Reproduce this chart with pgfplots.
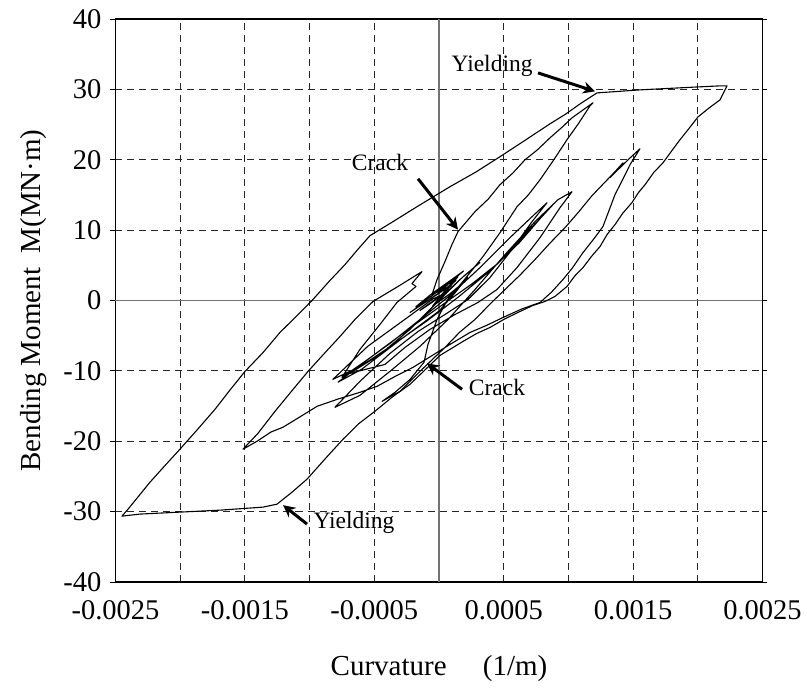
\documentclass[border=0pt]{standalone}
\usepackage{fontspec}
\setmainfont{Liberation Serif}
\usepackage{pgfplots}
\pgfplotsset{compat=1.18}
\usetikzlibrary{arrows.meta}
\begin{document}
\begin{tikzpicture}
\path[use as bounding box] (-115.5pt,-106pt) rectangle (691.5pt,582pt);
\begin{axis}[
  at={(0pt,0pt)}, anchor=south west,
  scale only axis, width=647pt, height=563pt,
  xmin=-0.0025, xmax=0.0025, ymin=-40, ymax=40,
  xtick={-0.0025,-0.0015,-0.0005,0.0005,0.0015,0.0025},
  xticklabels={-0.0025,-0.0015,-0.0005,0.0005,0.0015,0.0025},
  minor xtick={-0.002,-0.001,0.001,0.002},
  ytick={-40,-30,-20,-10,0,10,20,30,40},
  yticklabels={-40,-30,-20,-10,0,10,20,30,40},
  scaled x ticks=false,
  grid=both,
  major grid style={black!85, line width=0.8pt, dash pattern=on 7pt off 5pt},
  minor grid style={black!85, line width=0.8pt, dash pattern=on 7pt off 5pt},
  tick align=outside,
  major tick length=5pt,
  minor tick length=0pt,
  xtick style={draw=none},
  ytick style={black, line width=0.8pt},
  axis line style={black, line width=1.4pt},
  extra x ticks={0}, extra x tick labels={},
  extra x tick style={grid=major, major grid style={solid, draw=black!55, line width=1.1pt}},
  extra y ticks={0}, extra y tick labels={},
  extra y tick style={grid=major, major grid style={solid, draw=black!55, line width=1.1pt}},
  ticklabel style={font=\fontsize{28.5}{30}\selectfont},
  xticklabel style={inner sep=0pt, yshift=-13pt},
  yticklabel style={inner sep=0pt, xshift=-9pt},
  xlabel={Curvature\hspace{1.25em}(1/m)},
  ylabel={Bending Moment\ \ M(MN·m)},
  label style={font=\fontsize{29}{31}\selectfont},
  xlabel style={at={(axis description cs:0.5,-0.154)}, anchor=center},
  ylabel style={at={(axis description cs:-0.127,0.5)}, anchor=center},
]
% inner cycles
\addplot[black, line width=1.1pt, line join=round, mark=none] coordinates {
(0,0) (0.000054,1.28) (0.000100,2.41) (0.000039,1.13) (-0.000054,-0.28)
(-0.000147,-1.42) (-0.000085,-0.57) (0.000015,0.71) (0.000093,2.13)
(0.000147,3.40) (0.000085,2.55) (-0.000008,0.99) (-0.000108,-0.28)
(-0.000224,-1.70) (-0.000147,-0.71) (-0.000015,0.85) (0.000077,1.99)
(0.000131,2.84) (0.000062,1.84) (-0.000054,0.85) (-0.000015,2.98)
(0.000046,5.53) (0.000100,7.94) (0.000147,9.79) (0.000278,12.62)
(0.000380,14.40) (0.000471,16.45) (0.000570,18.10) (0.000665,20.00)
(0.000760,21.40) (0.000858,23.12) (0.000950,24.60) (0.001028,25.96)
(0.001190,28.09) (0.001167,27.66) (0.001080,25.20) (0.000989,22.84)
(0.000880,19.80) (0.000781,17.16) (0.000690,15.00) (0.000603,13.33)
(0.000470,9.60) (0.000340,6.24) (0.000178,2.55) (0.000062,0)
(-0.000015,-2.70) (-0.000085,-6.24) (-0.000116,-8.79) (-0.000224,-11.21)
(-0.000340,-13.05) (-0.000440,-14.33) (-0.000301,-12.91) (-0.000147,-10.07)
(0.000046,-6.67) (0.000160,-4.50) (0.000278,-2.70) (0.000400,-0.40)
(0.000510,1.56) (0.000620,3.50) (0.000742,5.82) (0.000860,8.20)
(0.000974,10.35) (0.001080,12.60) (0.001182,14.89) (0.001360,18.30)
(0.001422,19.57) (0.001321,17.45) (0.001461,20.00) (0.001553,21.56)
(0.001476,19.29) (0.001420,17.20) (0.001360,15.04) (0.001267,10.50)
(0.001190,8.60) (0.001113,6.81) (0.001030,4.60) (0.000958,2.98)
(0.000870,1.20) (0.000781,-0.28) (0.000640,-1.20) (0.000495,-2.41)
(0.000360,-3.60) (0.000240,-4.54) (0.000085,-6.24) (-0.000060,-7.90)
(-0.000201,-9.50) (-0.000330,-10.70) (-0.000479,-12.20) (-0.000620,-13.10)
(-0.000780,-14.00) (-0.000943,-15.04) (-0.001080,-16.60) (-0.001206,-18.01)
(-0.001300,-18.70) (-0.001406,-20.00) (-0.001515,-21.13) (-0.001400,-18.90)
(-0.001267,-15.74) (-0.001140,-12.90) (-0.001012,-10.07) (-0.000890,-7.60)
(-0.000765,-5.11) (-0.000640,-2.50) (-0.000510,-0.14) (-0.000317,1.99)
(-0.000131,4.11) (-0.000209,2.41) (-0.000178,1.99) (-0.000325,-0.28)
(-0.000456,-3.40) (-0.000611,-6.95) (-0.000750,-10.92) (-0.000572,-8.65)
(-0.000379,-6.10) (-0.000147,-2.70) (0.000085,0.71) (0.000317,4.68)
(0.000549,8.94) (0.000703,11.63) (0.000835,13.90) (0.000719,11.21)
(0.000564,7.23) (0.000394,3.26) (0.000224,0.14) (0.000046,-1.99)
(-0.000162,-4.40) (-0.000379,-7.52) (-0.000611,-11.49) (-0.000804,-15.18)
(-0.000611,-13.48) (-0.000379,-10.07) (-0.000147,-6.52) (0.000070,-2.70)
(0.000278,1.56) (0.000510,6.52) (0.000742,11.21) (0.000920,14.33)
(0.001028,15.46) (0.000935,13.19) (0.000781,8.94) (0.000603,4.68)
(0.000448,1.56) (0.000301,-0.28) (0.000124,-1.99) (-0.000070,-4.11)
(-0.000263,-6.67) (-0.000417,-9.08) (-0.000688,-10.35) (-0.000456,-7.66)
(-0.000224,-4.11) (-0.000031,-0.57) (0.000162,2.98) (0.000317,5.40)
(0.000200,3.60) (0.000046,1.00) (-0.000050,0.20) (-0.000250,-2.50)
(-0.000550,-6.50) (-0.000820,-11.20) (-0.000600,-9.30) (-0.000350,-6.20)
(-0.000100,-3.00) (0.000150,0.50) (0.000400,4.30) (0.000620,8.20)
(0.000780,11.60) (0.000880,13.60) (0.000800,12.00) (0.000620,8.50)
(0.000450,5.20) (0.000250,2.30) (0.000050,-0.30) (-0.000200,-3.60)
(-0.000450,-7.00) (-0.000680,-10.20) (-0.000780,-11.60) (-0.000600,-9.80)
(-0.000300,-5.60) (0.000000,-1.50) (0.000120,1.00) (0.000220,3.30)
(0.000180,2.40) (0.000080,0.90) (-0.000050,-0.80) (0.000050,1.50)
(0.000160,3.80) (0.000080,2.60) (-0.000060,0.60) (-0.000180,-0.90)
(-0.000060,0.90) (0.000100,3.00) (0.000190,4.20) (0.000100,2.80)
};
% outer loop
\addplot[black, line width=1.1pt, line join=round, mark=none] coordinates {
(0.001221,29.50) (0.001553,29.93) (0.002002,30.35) (0.002172,30.50)
(0.002226,30.50) (0.002172,28.51) (0.002090,27.40) (0.002002,26.10)
(0.001930,24.40) (0.001862,22.84) (0.001800,21.30) (0.001731,19.57)
(0.001660,18.20) (0.001592,16.45) (0.001540,15.30) (0.001491,13.90)
(0.001420,12.40) (0.001360,10.78) (0.001300,9.40) (0.001244,7.66)
(0.001180,6.30) (0.001113,4.68) (0.001050,3.50) (0.000989,1.99)
(0.000896,0.57) (0.000819,-0.14) (0.000726,-0.70) (0.000626,-1.56)
(0.000510,-2.60) (0.000394,-3.83) (0.000290,-4.70) (0.000185,-5.82)
(0.000008,-7.80) (-0.000110,-9.90) (-0.000224,-11.91) (-0.000360,-13.70)
(-0.000495,-15.74) (-0.000620,-17.50) (-0.000742,-19.72) (-0.000880,-22.50)
(-0.001020,-25.39) (-0.001140,-27.30) (-0.001252,-28.94) (-0.001360,-29.36)
(-0.001692,-29.79) (-0.002002,-30.07) (-0.002311,-30.35) (-0.002450,-30.64)
(-0.002403,-29.65) (-0.002330,-28.00) (-0.002233,-25.81) (-0.002110,-23.30)
(-0.002002,-21.13) (-0.001870,-18.40) (-0.001731,-15.46) (-0.001610,-12.60)
(-0.001499,-10.07) (-0.001360,-7.40) (-0.001229,-4.54) (-0.001100,-2.20)
(-0.000974,0.14) (-0.000850,2.70) (-0.000726,5.11) (-0.000630,7.20)
(-0.000533,9.22) (-0.000355,11.21) (-0.000170,13.33) (0.000085,16.17)
(0.000280,18.20) (0.000471,20.43) (0.000660,22.70) (0.000858,25.11)
(0.000980,26.50) (0.001090,27.94) (0.001221,29.50)
};
% annotations
\draw[line width=3pt, -{Stealth[length=12pt,width=12pt]}] (axis cs:0.000765,32.34) -- (axis cs:0.001206,29.72);
\draw[line width=3pt, -{Stealth[length=12pt,width=12pt]}] (axis cs:-0.000162,17.30) -- (axis cs:0.000147,10.07);
\draw[line width=3pt, -{Stealth[length=12pt,width=12pt]}] (axis cs:0.000178,-12.62) -- (axis cs:-0.000093,-8.93);
\draw[line width=3pt, -{Stealth[length=12pt,width=12pt]}] (axis cs:-0.001020,-31.77) -- (axis cs:-0.001205,-29.08);
\node[font=\fontsize{23.5}{25}\selectfont] at (axis cs:0.000410,33.33) {Yielding};
\node[font=\fontsize{23.5}{25}\selectfont] at (axis cs:-0.000456,19.57) {Crack};
\node[font=\fontsize{23.5}{25}\selectfont] at (axis cs:0.000448,-12.34) {Crack};
\node[font=\fontsize{23.5}{25}\selectfont] at (axis cs:-0.000657,-31.63) {Yielding};
\end{axis}
\end{tikzpicture}
\end{document}
